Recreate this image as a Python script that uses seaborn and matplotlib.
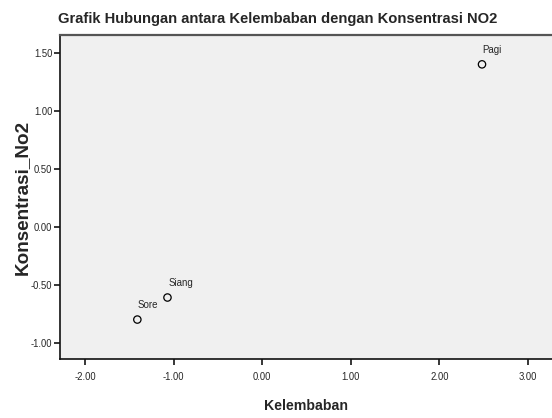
import matplotlib
matplotlib.use("Agg")
import matplotlib.pyplot as plt
import seaborn as sns
import pandas as pd
from matplotlib import font_manager

labels = ["Pagi", "Siang", "Sore"]
kelembaban = [2.48, -1.07, -1.41]
konsentrasi = [1.40, -0.61, -0.80]
xticks = [-2.0, -1.0, 0.0, 1.0, 2.0, 3.0]
yticks = [-1.0, -0.5, 0.0, 0.5, 1.0, 1.5]
title = "Grafik Hubungan antara Kelembaban dengan Konsentrasi NO2"

df = pd.DataFrame({"Kelembaban": kelembaban, "Konsentrasi_No2": konsentrasi, "label": labels})

sns.set_theme(style="white")
names = {f.name for f in font_manager.fontManager.ttflist}
narrow = "Liberation Sans Narrow" if "Liberation Sans Narrow" in names else "Liberation Sans"
plt.rcParams["font.family"] = [narrow, "DejaVu Sans"]
plt.rcParams["axes.unicode_minus"] = False

fig = plt.figure(figsize=(5.52, 4.18), dpi=100)
renderer = fig.canvas.get_renderer()


def fit(text, target_px, weight="normal", family=None):
    fam = family or narrow
    t = fig.text(0, 0, text, fontsize=10, fontweight=weight, family=fam)
    w = t.get_window_extent(renderer=renderer).width
    t.remove()
    return 10 * target_px / w


ax = fig.add_axes([60/552, 59/418, 492/552, 324/418])
ax.set_facecolor("#f0f0f0")
sns.scatterplot(data=df, x="Kelembaban", y="Konsentrasi_No2", ax=ax, marker="o",
                s=28, facecolor="none", edgecolor="black", linewidth=0.9)
ptsize = fit("Siang", 25)
for lab, x, y in zip(labels, kelembaban, konsentrasi):
    ax.annotate(lab, (x, y), xytext=(0.5, 8.0), textcoords="offset points",
                fontsize=ptsize, ha="left", va="baseline")

ax.set_xlim(-2.283, 3.27)
ax.set_ylim(-1.14, 1.653)
ax.set_xticks(xticks)
ax.set_yticks(yticks)
ticksize = fit("0.00", 18.5)
ax.set_xticklabels([f"{v:.2f}" for v in xticks], fontsize=ticksize)
ax.set_yticklabels([f"{v:.2f}" for v in yticks], fontsize=ticksize)
ax.tick_params(axis="both", direction="out", length=4.5, width=1.1, color="black",
               bottom=True, left=True)
ax.tick_params(axis="x", pad=5)
ax.tick_params(axis="y", pad=1)
for s in ["left", "bottom"]:
    ax.spines[s].set_color("#111111")
    ax.spines[s].set_linewidth(1.2)
ax.spines["top"].set_color("#555555")
ax.spines["top"].set_linewidth(1.6)
ax.spines["right"].set_visible(False)

ax.set_xlabel("Kelembaban", fontsize=fit("Kelembaban", 84, "bold"), fontweight="bold")
ax.xaxis.set_label_coords(0.5, -47/324)
ax.xaxis.label.set_va("center")
ax.set_ylabel("Konsentrasi_No2", fontsize=fit("Konsentrasi_No2", 155, "bold", "Liberation Sans"),
              fontweight="bold", family="Liberation Sans")
ax.yaxis.set_label_coords(-38/492, 0.5)
ax.yaxis.label.set_va("center")
fig.text(58/552, 1 - 19/418, title, fontsize=fit(title, 440, "bold"),
         fontweight="bold", ha="left", va="center")

fig.savefig("out.png", dpi=100, facecolor="white")
